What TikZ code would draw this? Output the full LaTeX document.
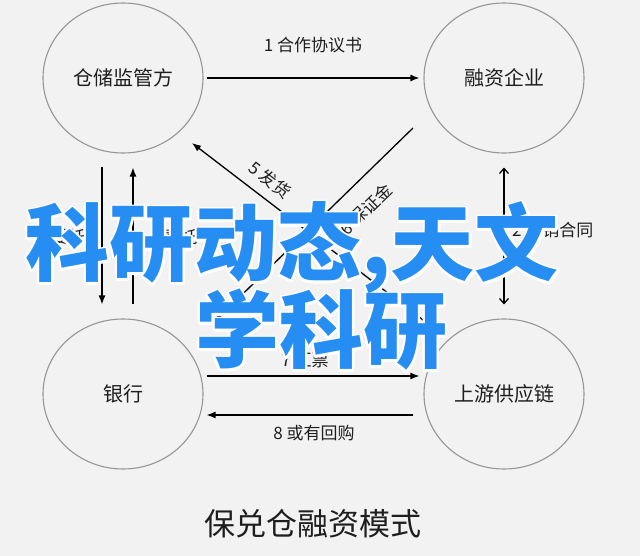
\documentclass[tikz,border=0pt]{standalone}
\usepackage{fontspec}
\setmainfont{Noto Sans CJK SC}
\usetikzlibrary{arrows.meta,shapes.geometric}
\definecolor{bg}{RGB}{242,242,242}
\definecolor{ring}{RGB}{150,150,150}
\definecolor{ink}{RGB}{30,30,30}
\definecolor{ovl}{RGB}{38,142,242}
\newcommand{\halotext}[1]{\special{pdf:literal direct 1 1 1 RG 4.5 w 1 j 1 Tr}#1\special{pdf:literal direct 0 Tr 1 w 0 j}}
\tikzset{
  party/.style={draw=ring, line width=1.1pt, ellipse, minimum width=160pt, minimum height=150pt,
    inner sep=0pt, text=ink, font=\fontsize{20}{24}\selectfont},
  flow/.style={draw=black, line width=1.3pt, -{Latex[length=9pt,width=7pt]}},
  twoway/.style={draw=black, line width=1.3pt, {Straight Barb[length=5pt,width=9pt,line width=1.3pt]}-{Straight Barb[length=5pt,width=9pt,line width=1.3pt]}},
  lbl/.style={inner sep=0pt, text=ink, font=\fontsize{17}{20}\selectfont},
  ttl/.style={inner sep=0pt, text=ink, font=\fontsize{31}{36}\selectfont},
  overlay/.style={inner sep=0pt, text=ovl, font=\fontsize{84}{90}\selectfont\bfseries}
}
\begin{document}
\begin{tikzpicture}[x=1pt,y=-1pt]
\useasboundingbox (0,0) rectangle (640,556);
\fill[bg] (0,0) rectangle (640,556);

\node[party] (wh) at (123,78) {仓储监管方};
\node[party] (fe) at (504,78) {融资企业};
\node[party] (bk) at (123,394) {银行};
\node[party] (sc) at (504,394) {上游供应链};

% 1
\draw[flow] ([xshift=3pt]wh.east) -- ([xshift=-4pt]fe.west);
\node[lbl] (l1) at (313,45) {1 合作协议书};
% 4 (down) and 3 (up)
\draw[flow] ([shift={(-21pt,-13pt)}]wh.south) -- ([shift={(-21pt,14pt)}]bk.north);
\draw[flow] ([shift={(10pt,14pt)}]bk.north) -- ([shift={(10pt,-14pt)}]wh.south);
\node[lbl] (l4) at (62,237) {4 委托};
\node[lbl] (l3) at (174,237) {3 委托};
% 2
\draw[twoway] ([yshift=-14pt]fe.south) -- ([yshift=14pt]sc.north);
\node[lbl, anchor=west] (l2) at (512,230) {2 购销合同};
% 5
\draw[flow] ([shift={(-77pt,71pt)}]sc.center) -- ([shift={(69pt,-65pt)}]wh.center);
\node[lbl, rotate=-37] (l5) at (270,180) {5 发货};
% 6
\draw[flow] ([shift={(-91pt,-50pt)}]fe.center) -- ([shift={(91pt,72pt)}]bk.center);
\node[lbl, rotate=44] (l6) at (366,209) {6 保证金};
% 7 and 8
\draw[flow] ([shift={(3pt,18pt)}]bk.east) -- ([shift={(-4pt,18pt)}]sc.west);
\node[lbl] (l7) at (305,360) {7 汇票};
\draw[flow] ([shift={(-10pt,-21pt)}]sc.west) -- ([shift={(3pt,-21pt)}]bk.east);
\node[lbl] (l8) at (314,433) {8 或有回购};

\node[ttl] (title) at (313,524) {保兑仓融资模式};

% overlay text: white halo copy, then the blue fill on top
\node[overlay] (ov1h) at (292,248) {\halotext{科研动态,天文}};
\node[overlay] (ov2h) at (321,330) {\halotext{学科研}};
\node[overlay] (ov1) at (292,248) {科研动态,天文};
\node[overlay] (ov2) at (321,330) {学科研};
\end{tikzpicture}
\end{document}
